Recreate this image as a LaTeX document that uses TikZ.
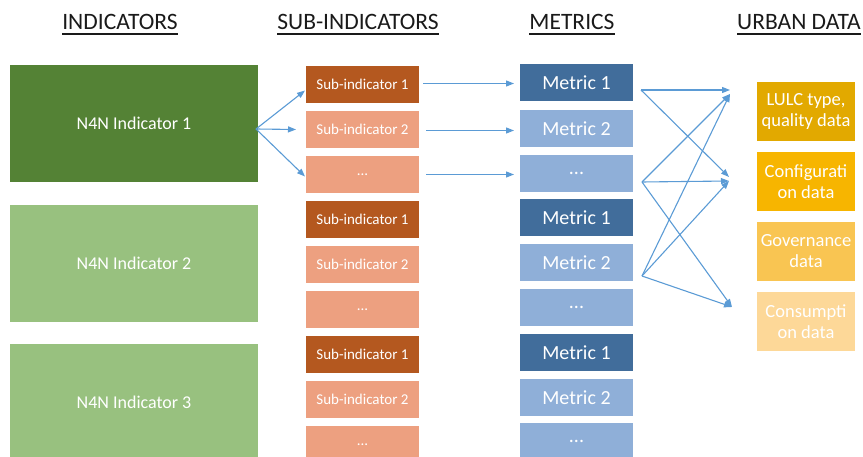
\documentclass[tikz,border=0pt]{standalone}
\usepackage{fontspec}
\setmainfont{Carlito}
\usetikzlibrary{arrows.meta}
\definecolor{dgreen}{HTML}{548235}
\definecolor{lgreen}{HTML}{98C17F}
\definecolor{dorange}{HTML}{B4581F}
\definecolor{lorange}{HTML}{EDA080}
\definecolor{dblue}{HTML}{416D9B}
\definecolor{lblue}{HTML}{8FAFD8}
\definecolor{gold1}{HTML}{E2A900}
\definecolor{gold2}{HTML}{F7B500}
\definecolor{gold3}{HTML}{F9C552}
\definecolor{gold4}{HTML}{FDD898}
\definecolor{arrowblue}{HTML}{5B9BD5}
\definecolor{headc}{HTML}{1A1A1A}
\newcommand\hdul[1]{\setbox0\hbox{#1}\rlap{\rule[-5pt]{\wd0}{1.7pt}}\box0}
\begin{document}
\begin{tikzpicture}[x=1pt,y=-1pt,
  boxbase/.style={rectangle,anchor=north west,inner sep=0pt,outer sep=0pt,text=white,align=center},
  indbox/.style={boxbase,minimum width=248pt,minimum height=117pt,font=\fontsize{18}{20}\selectfont},
  subbox/.style={boxbase,minimum width=113pt,minimum height=37pt,font=\fontsize{15}{17}\selectfont},
  metbox/.style={boxbase,minimum width=113pt,minimum height=37pt,font=\fontsize{20}{22}\selectfont},
  databox/.style={boxbase,minimum width=98pt,minimum height=59pt,font=\fontsize{18.5}{21}\selectfont},
  header/.style={anchor=base,text=headc,font=\fontsize{23.5}{26}\selectfont},
  arr/.style={draw=arrowblue,line width=1.1pt,-{Triangle[length=8pt,width=6pt]}}
]
\useasboundingbox (0,0) rectangle (863,457);
\clip (0,0) rectangle (863,457);

% headers
\node[header] (h1) at (120,30) {\hdul{INDICATORS}};
\node[header] (h2) at (358,30) {\hdul{SUB-INDICATORS}};
\node[header] (h3) at (572,30) {\hdul{METRICS}};
\node[header] (h4) at (799,30) {\hdul{URBAN DATA}};

% indicators
\node[indbox,fill=dgreen] (ind1) at (10,65) {N4N Indicator 1};
\node[indbox,fill=lgreen] (ind2) at (10,205) {N4N Indicator 2};
\node[indbox,fill=lgreen] (ind3) at (10,344) {N4N Indicator 3};

% sub-indicators
\node[subbox,fill=dorange] (s1) at (306,66) {Sub-indicator 1};
\node[subbox,fill=lorange] (s2) at (306,111) {Sub-indicator 2};
\node[subbox,fill=lorange] (s3) at (306,156) {...};
\node[subbox,fill=dorange] (s4) at (306,201) {Sub-indicator 1};
\node[subbox,fill=lorange] (s5) at (306,246) {Sub-indicator 2};
\node[subbox,fill=lorange] (s6) at (306,291) {...};
\node[subbox,fill=dorange] (s7) at (306,336) {Sub-indicator 1};
\node[subbox,fill=lorange] (s8) at (306,381) {Sub-indicator 2};
\node[subbox,fill=lorange] (s9) at (306,426) {...};

% metrics
\node[metbox,fill=dblue] (m1) at (520,64) {Metric 1};
\node[metbox,fill=lblue] (m2) at (520,110) {Metric 2};
\node[metbox,fill=lblue] (m3) at (520,155) {...};
\node[metbox,fill=dblue] (m4) at (520,199) {Metric 1};
\node[metbox,fill=lblue] (m5) at (520,244) {Metric 2};
\node[metbox,fill=lblue] (m6) at (520,289) {...};
\node[metbox,fill=dblue] (m7) at (520,334) {Metric 1};
\node[metbox,fill=lblue] (m8) at (520,379) {Metric 2};
\node[metbox,fill=lblue] (m9) at (520,423) {...};

% urban data
\node[databox,fill=gold1] (d1) at (757,82) {LULC type,\\quality data};
\node[databox,fill=gold2] (d2) at (757,152) {Configurati\\on data};
\node[databox,fill=gold3] (d3) at (757,222) {Governance\\data};
\node[databox,fill=gold4] (d4) at (757,292) {Consumpti\\on data};

% indicator -> sub-indicators
\coordinate (i1out) at (256,129);
\draw[arr] (i1out) -- ([xshift=-1pt,yshift=-6pt]s1.west);
\draw[arr] (i1out) -- ([xshift=-10pt,yshift=0pt]s2.west);
\draw[arr] (i1out) -- ([xshift=-1pt,yshift=-2pt]s3.west);

% sub-indicators -> metrics
\draw[arr] ([xshift=4pt,yshift=1pt]s1.east) -- ([xshift=-6pt,yshift=1pt]m1.west |- s1.east);
\draw[arr] ([xshift=7pt,yshift=-1pt]s2.east) -- ([xshift=-6pt,yshift=-1pt]m2.west |- s2.east);
\draw[arr] ([xshift=7pt]s3.east) -- ([xshift=-6pt]m3.west |- s3.east);

% metrics -> urban data
\coordinate (pA) at (641,90);
\coordinate (pB) at (642,182);
\coordinate (pC) at (642,276);
\coordinate (tL) at (730,90);
\coordinate (tL2) at (730,94);
\coordinate (tC) at (729,181);
\coordinate (tC2) at (729,177);
\coordinate (tK) at (732,307);
\draw[arr] (pA) -- (tL);
\draw[arr] (pA) -- (tC2);
\draw[arr] (pB) -- (tL2);
\draw[arr] (pB) -- (tC);
\draw[arr] (pB) -- (tK);
\draw[arr] (pC) -- (tL2);
\draw[arr] (pC) -- (tC);
\draw[arr] (pC) -- (tK);
\end{tikzpicture}
\end{document}
